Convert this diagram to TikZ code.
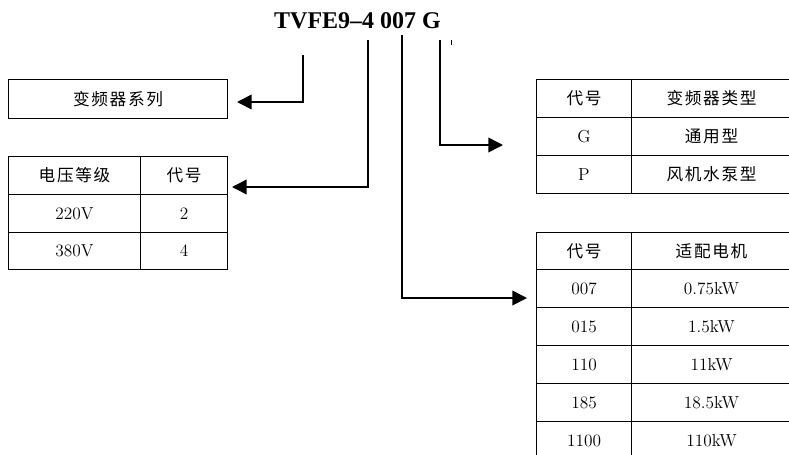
\documentclass[tikz,border=0pt]{standalone}
\usepackage{fontspec}
\newfontfamily\cjk{Noto Sans CJK SC}[LetterSpace=10]
\newfontfamily\titlefont{Liberation Serif}
\usetikzlibrary{arrows.meta}

\begin{document}
\begin{tikzpicture}[
  x=0.75pt, y=-0.75pt,
  font=\fontsize{13}{15}\selectfont,
  cell/.style 2 args={rectangle, draw, line width=0.75pt, inner sep=0pt, anchor=north west,
    minimum width=#1*0.75pt, minimum height=#2*0.75pt},
  zh/.style={font=\cjk\fontsize{12.5}{14}\selectfont},
  pointer/.style={-{Triangle[length=11pt, width=11pt]}, line width=1.2pt}
]
\useasboundingbox (0,0) rectangle (789,454);
\clip (0,0) rectangle (789,454);

\node[font=\titlefont\bfseries\fontsize{18}{20}\selectfont, anchor=base] (code) at (357.5,28) {TVFE9–4 007 G};

% series
\node[cell={219}{39}, zh] (series) at (8,79) {变频器系列};

% voltage
\node[cell={132}{38}, zh] (volt)  at (8,156)   {电压等级};
\node[cell={87}{38}, zh]  (vcode) at (140,156) {代号};
\node[cell={132}{38}]     (v220)  at (8,194)   {220V};
\node[cell={87}{38}]      (c220)  at (140,194) {2};
\node[cell={132}{37}]     (v380)  at (8,232)   {380V};
\node[cell={87}{37}]      (c380)  at (140,232) {4};

% type
\node[cell={95}{38}, zh]  (tcode) at (536,79)  {代号};
\node[cell={160}{38}, zh] (type)  at (631,79)  {变频器类型};
\node[cell={95}{38}]      (tg)    at (536,117) {G};
\node[cell={160}{38}, zh] (gen)   at (631,117) {通用型};
\node[cell={95}{38}]      (tp)    at (536,155) {P};
\node[cell={160}{38}, zh] (fan)   at (631,155) {风机水泵型};

% motor
\node[cell={95}{37}, zh]  (mcode) at (536,232) {代号};
\node[cell={160}{37}, zh] (motor) at (631,232) {适配电机};
\node[cell={95}{38}]      (m007)  at (536,269) {007};
\node[cell={160}{38}]     (p007)  at (631,269) {0.75kW};
\node[cell={95}{38}]      (m015)  at (536,307) {015};
\node[cell={160}{38}]     (p015)  at (631,307) {1.5kW};
\node[cell={95}{38}]      (m110)  at (536,345) {110};
\node[cell={160}{38}]     (p110)  at (631,345) {11kW};
\node[cell={95}{38}]      (m185)  at (536,383) {185};
\node[cell={160}{38}]     (p185)  at (631,383) {18.5kW};
\node[cell={95}{38}]      (m1100) at (536,421) {1100};
\node[cell={160}{38}]     (p1100) at (631,421) {110kW};

% leaders
\coordinate (s1) at (303,55);  \coordinate (t1) at (237,102);
\coordinate (s2) at (368,40);  \coordinate (t2) at (232,187);
\coordinate (s3) at (402,35);  \coordinate (t3) at (527,298);
\coordinate (s4) at (440,40);  \coordinate (t4) at (503,145);
\coordinate (k1) at (451,40);  \coordinate (k2) at (451,45);

\draw[pointer] (s1) |- (t1);
\draw[pointer] (s2) |- (t2);
\draw[pointer] (s3) |- (t3);
\draw[pointer] (s4) |- (t4);
\draw[line width=0.75pt] (k1) -- (k2);
\end{tikzpicture}
\end{document}
